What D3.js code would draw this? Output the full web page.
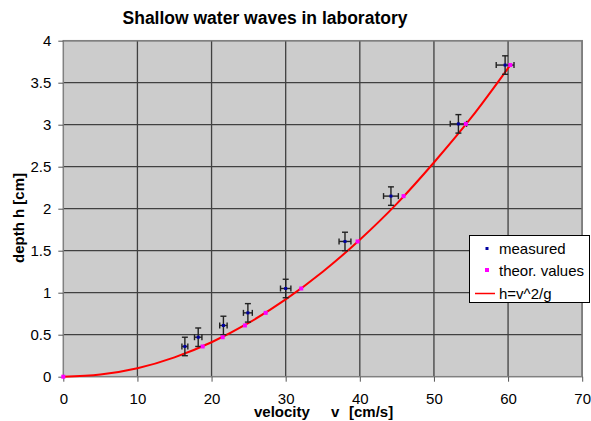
<!DOCTYPE html>
<html>
<head>
<meta charset="utf-8">
<script src="https://cdn.jsdelivr.net/npm/d3@7"></script>
<style>
  body { margin: 0; background: #fff; }
  svg text { font-family: "Liberation Sans", Arial, sans-serif; fill: #000; }
</style>
</head>
<body>
<div id="chart"></div>
<script>
// measured points (velocity cm/s, depth cm) with error bars
const velocity = [16.4, 18.2, 21.6, 24.9, 30.0, 38.0, 44.2, 53.3, 59.6];
const depth    = [0.36, 0.47, 0.61, 0.76, 1.05, 1.61, 2.15, 3.01, 3.71];
const vErr     = [0.4, 0.5, 0.5, 0.6, 0.7, 0.8, 1.0, 1.1, 1.2];
const hErr     = [0.11, 0.11, 0.11, 0.11, 0.11, 0.11, 0.11, 0.11, 0.11];

// theoretical values
const theorV = [0, 18.8, 21.5, 24.5, 27.3, 32.1, 39.7, 45.9, 54.3, 60.3];
const theorH = [0, 0.36, 0.47, 0.61, 0.76, 1.05, 1.61, 2.15, 3.01, 3.71];

// curve h = v^2/g
const curveV = [0, 5, 10, 15, 20, 25, 30, 35, 40, 45, 50, 55, 60.3];
const curveH = [0, 0.025, 0.10, 0.23, 0.41, 0.64, 0.92, 1.25, 1.63, 2.06, 2.55, 3.08, 3.71];

const xTicks = [0, 10, 20, 30, 40, 50, 60, 70];
const yTicks = [0, 0.5, 1, 1.5, 2, 2.5, 3, 3.5, 4];

const width = 591, height = 421;
const plot = { left: 63.3, right: 582.2, top: 40.7, bottom: 376.7 };

const svg = d3.select("#chart").append("svg")
  .attr("width", width)
  .attr("height", height);

const x = d3.scaleLinear().domain([0, 70]).range([plot.left, plot.right]);
const y = d3.scaleLinear().domain([0, 4]).range([plot.bottom, plot.top]);

// plot background
svg.append("rect")
  .attr("x", plot.left).attr("y", plot.top)
  .attr("width", plot.right - plot.left)
  .attr("height", plot.bottom - plot.top)
  .attr("fill", "#cccccc");

// grid
svg.append("g").selectAll("line")
  .data(yTicks.slice(1))
  .enter().append("line")
  .attr("x1", plot.left).attr("x2", plot.right)
  .attr("y1", d => y(d)).attr("y2", d => y(d))
  .attr("stroke", "#404040").attr("stroke-width", 1.3);

svg.append("g").selectAll("line")
  .data(xTicks.slice(1))
  .enter().append("line")
  .attr("x1", d => x(d)).attr("x2", d => x(d))
  .attr("y1", plot.top).attr("y2", plot.bottom)
  .attr("stroke", "#404040").attr("stroke-width", 1.3);

// frame / axis lines
svg.append("rect")
  .attr("x", plot.left).attr("y", plot.top)
  .attr("width", plot.right - plot.left)
  .attr("height", plot.bottom - plot.top)
  .attr("fill", "none")
  .attr("stroke", "#808080").attr("stroke-width", 1.5);

// axes
const yAxis = svg.append("g")
  .attr("transform", `translate(${plot.left},0)`)
  .call(d3.axisLeft(y).tickValues(yTicks).tickFormat(d3.format("~g")).tickSize(5).tickPadding(7));
yAxis.select(".domain").remove();

const xAxis = svg.append("g")
  .attr("transform", `translate(0,${plot.bottom})`)
  .call(d3.axisBottom(x).tickValues(xTicks).tickSize(5).tickPadding(12));
xAxis.select(".domain").remove();

svg.selectAll(".tick line").attr("stroke", "#555");
svg.selectAll(".tick text")
  .style("font-size", "15px")
  .style("font-family", "'Liberation Sans', Arial, sans-serif");

// curve
const line = d3.line()
  .x(d => x(d[0]))
  .y(d => y(d[1]))
  .curve(d3.curveMonotoneX);

svg.append("path")
  .datum(curveV.map((v, i) => [v, curveH[i]]))
  .attr("d", line)
  .attr("fill", "none")
  .attr("stroke", "#ff0000")
  .attr("stroke-width", 2);

// error bars
const measured = velocity.map((v, i) => ({ v: v, h: depth[i], ev: vErr[i], eh: hErr[i] }));
const eb = svg.append("g").attr("stroke", "#222").attr("stroke-width", 1.4);
measured.forEach(d => {
  const cx = x(d.v), cy = y(d.h);
  const x0 = x(d.v - d.ev), x1 = x(d.v + d.ev);
  const y0 = y(d.h - d.eh), y1 = y(d.h + d.eh);
  eb.append("line").attr("x1", x0).attr("x2", x1).attr("y1", cy).attr("y2", cy);
  eb.append("line").attr("x1", x0).attr("x2", x0).attr("y1", cy - 3).attr("y2", cy + 3);
  eb.append("line").attr("x1", x1).attr("x2", x1).attr("y1", cy - 3).attr("y2", cy + 3);
  eb.append("line").attr("x1", cx).attr("x2", cx).attr("y1", y0).attr("y2", y1);
  eb.append("line").attr("x1", cx - 3).attr("x2", cx + 3).attr("y1", y0).attr("y2", y0);
  eb.append("line").attr("x1", cx - 3).attr("x2", cx + 3).attr("y1", y1).attr("y2", y1);
});

// theoretical markers
svg.append("g").selectAll("rect")
  .data(theorV.map((v, i) => [v, theorH[i]]))
  .enter().append("rect")
  .attr("x", d => x(d[0]) - 2)
  .attr("y", d => y(d[1]) - 2)
  .attr("width", 4).attr("height", 4)
  .attr("fill", "#ff00ff");

// measured markers
svg.append("g").selectAll("rect")
  .data(measured)
  .enter().append("rect")
  .attr("x", d => x(d.v) - 1.5)
  .attr("y", d => y(d.h) - 1.5)
  .attr("width", 3).attr("height", 3)
  .attr("fill", "#0000a0");

// title
svg.append("text")
  .attr("x", 265).attr("y", 24)
  .attr("text-anchor", "middle")
  .style("font-size", "17.5px")
  .style("font-weight", "bold")
  .text("Shallow water waves in laboratory");

// axis titles
const xt = svg.append("g").style("font-size", "15px").style("font-weight", "bold");
xt.append("text").attr("x", 254).attr("y", 417).text("velocity");
xt.append("text").attr("x", 331).attr("y", 417).text("v");
xt.append("text").attr("x", 349).attr("y", 417).text("[cm/s]");

svg.append("text")
  .attr("transform", "translate(24,218) rotate(-90)")
  .attr("text-anchor", "middle")
  .style("font-size", "15px")
  .style("font-weight", "bold")
  .text("depth h [cm]");

// legend
const lg = svg.append("g");
lg.append("rect")
  .attr("x", 469.5).attr("y", 235.5)
  .attr("width", 120).attr("height", 67)
  .attr("fill", "#fff").attr("stroke", "#000").attr("stroke-width", 1);
lg.append("rect").attr("x", 485.5).attr("y", 247).attr("width", 3).attr("height", 3).attr("fill", "#0000a0");
lg.append("rect").attr("x", 485).attr("y", 268).attr("width", 4).attr("height", 4).attr("fill", "#ff00ff");
lg.append("line").attr("x1", 475).attr("x2", 495).attr("y1", 293.5).attr("y2", 293.5)
  .attr("stroke", "#ff0000").attr("stroke-width", 1.5);
const legendLabels = ["measured", "theor. values", "h=v^2/g"];
lg.selectAll("text.lab")
  .data(legendLabels)
  .enter().append("text")
  .attr("class", "lab")
  .attr("x", 499)
  .attr("y", (d, i) => 253.5 + i * 22.5)
  .style("font-size", "15px")
  .text(d => d);
</script>
</body>
</html>
